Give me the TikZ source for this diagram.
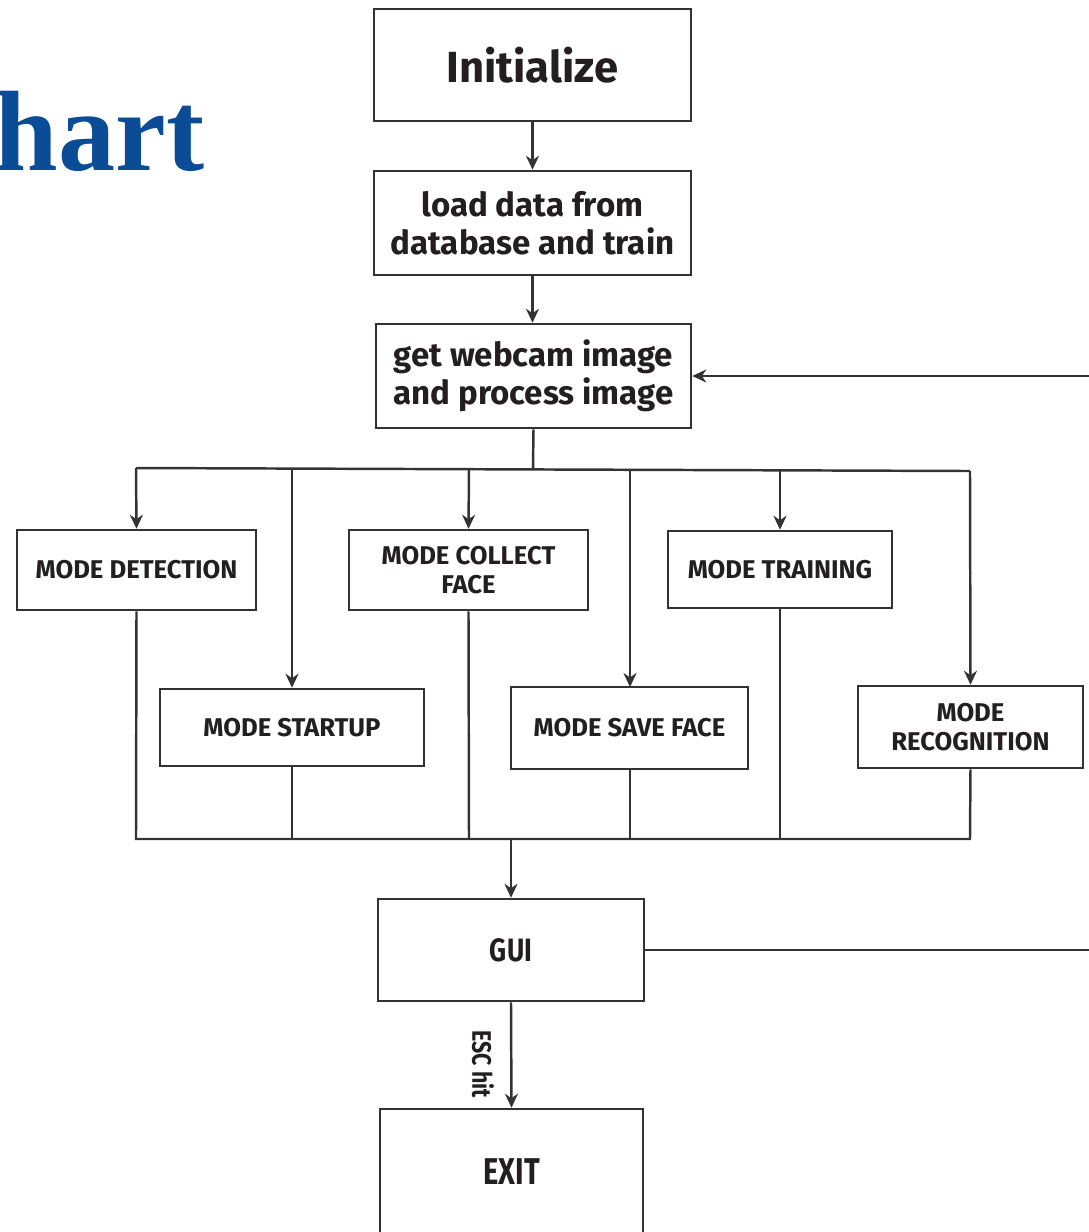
\documentclass[tikz,border=0pt]{standalone}
\usepackage{fontspec}
\setmainfont{Fira Sans}
\newfontfamily\titlefont{Liberation Serif}
\usetikzlibrary{arrows.meta}
\definecolor{ink}{HTML}{231F20}
\definecolor{wire}{HTML}{333333}
\definecolor{titleblue}{HTML}{0A4C96}
\begin{document}
\begin{tikzpicture}[x=0.01cm,y=-0.01cm,
  box/.style={draw=wire,line width=0.7pt,fill=white,inner sep=0pt,text=ink,align=center},
  big/.style={font=\bfseries\fontsize{12.4}{14}\selectfont},
  mid/.style={font=\bfseries\fontsize{9.4}{10.8}\selectfont},
  small/.style={font=\bfseries\fontsize{7.3}{8.3}\selectfont},
  wirel/.style={draw=wire,line width=0.7pt},
  flow/.style={wirel,-{Stealth[length=0.14cm,width=0.13cm,inset=0.045cm]}}]
\useasboundingbox (0,0) rectangle (1089,1232);
\begin{scope}
\clip (0,0) rectangle (1089,1232);
% page title
\node[anchor=base west,inner sep=0pt,text=titleblue,font=\titlefont\bfseries\fontsize{32.5}{34}\selectfont] (title) at (-6,170) {hart};

% main column
\node[box,big,minimum width=3.17cm,minimum height=1.12cm] (init) at (532.5,65) {Initialize};
\node[box,mid,minimum width=3.17cm,minimum height=1.04cm] (load) at (532.5,223) {load data from\\database and train};
\node[box,mid,minimum width=3.15cm,minimum height=1.04cm] (cam) at (533.5,376) {get webcam image\\and process image};

% modes
\node[box,small,minimum width=2.39cm,minimum height=0.80cm] (det) at (136.5,570) {MODE DETECTION};
\node[box,small,minimum width=2.39cm,minimum height=0.80cm] (col) at (468.5,570) {MODE COLLECT\\FACE};
\node[box,small,minimum width=2.24cm,minimum height=0.77cm] (tra) at (780,569.5) {MODE TRAINING};
\node[box,small,minimum width=2.64cm,minimum height=0.77cm] (sta) at (292,727.5) {MODE STARTUP};
\node[box,small,minimum width=2.37cm,minimum height=0.82cm] (sav) at (629.5,728) {MODE SAVE FACE};
\node[box,small,minimum width=2.25cm,minimum height=0.82cm] (rec) at (970.5,727) {MODE\\RECOGNITION};

% output
\node[box,minimum width=2.66cm,minimum height=1.02cm] (gui) at (511,950) {\scalebox{0.82}[1]{\fontsize{9.2}{11}\bfseries\selectfont GUI}};
\node[box,minimum width=2.63cm,minimum height=1.60cm] (exit) at (511.5,1189) {};
\node[text=ink,inner sep=0pt] (exitlabel) at (511.5,1172) {\scalebox{0.78}[1]{\fontsize{10.6}{12}\bfseries\selectfont EXIT}};
\node[text=ink,inner sep=0pt,rotate=-90] (esc) at (483,1064) {\scalebox{0.8}[1]{\fontsize{7.6}{9}\bfseries\selectfont ESC hit}};

% branch points
\coordinate (split) at (533,469);
\coordinate (busL) at (136,468);
\coordinate (busR) at (970,471);
\coordinate (joinL) at (136,839);
\coordinate (joinR) at (970,839);
\coordinate (merge) at (511,839);
\coordinate (loopIn) at (1089,376);
\coordinate (loopOut) at (1089,950);

% connectors
\draw[flow] (532.5,121) -- (load.north);
\draw[flow] (load.south) -- (load.south |- cam.north);
\draw[flow] (loopIn) -- (cam.east |- loopIn);
\draw[wirel] (cam.south) -- (split);
\draw[wirel] (busL) -- (busR);
\draw[flow] (busL) -- (det.north);
\draw[flow] (292,468.5) -- (sta.north);
\draw[flow] (469,469) -- (col.north);
\draw[flow] (630,469.5) -- (630,687);
\draw[flow] (780,470) -- (tra.north);
\draw[flow] (busR) -- (rec.north);
\draw[wirel] (det.south) -- (joinL) -- (joinR) -- (rec.south);
\draw[wirel] (sta.south) -- (292,839);
\draw[wirel] (col.south) -- (469,839);
\draw[wirel] (630,769) -- (630,839);
\draw[wirel] (tra.south) -- (780,839);
\draw[flow] (merge) -- (gui.north);
\draw[wirel] (gui.east) -- (loopOut);
\draw[flow] (gui.south) -- (exit.north);
\end{scope}
\end{tikzpicture}
\end{document}
